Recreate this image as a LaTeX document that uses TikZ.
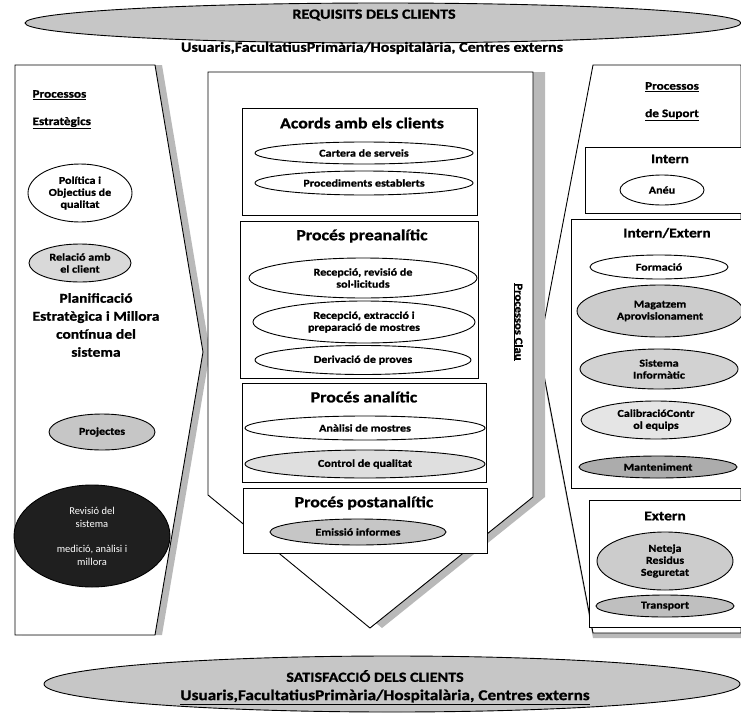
\documentclass[tikz,border=0pt]{standalone}
\usepackage{fontspec}
\setmainfont{Carlito}[BoldFeatures={FakeStretch=1.15,FakeBold=1}]
\usetikzlibrary{shapes.geometric}
\begin{document}
\begin{tikzpicture}[x=1pt,y=-1pt,
  ell/.style={ellipse, draw=black, line width=0.9pt, fill=white, inner sep=0pt, align=center,
              font=\bfseries\fontsize{10.5}{12}\selectfont},
  boxp/.style={rectangle, draw=black, line width=0.9pt, fill=white, inner sep=0pt, anchor=north west},
  ttl/.style={font=\bfseries\fontsize{15.5}{17}\selectfont},
  hdr/.style={font=\bfseries\fontsize{14}{16}\selectfont},
  sub/.style={font=\bfseries\fontsize{11.5}{14}\selectfont},
  panel/.style={draw=black, line width=0.9pt, fill=white},
  shade/.style={fill=gray!55, draw=none},
]
\useasboundingbox (0,0) rectangle (741,715);

% ---------- top banner ----------
\node[ell, fill=gray!45, minimum width=716, minimum height=40] (req) at (383,23) {};
\node[hdr] (reqt) at (374,15) {REQUISITS DELS CLIENTS};
\node[hdr] (usr) at (372,48) {Usuaris,FacultatiusPrimària/Hospitalària, Centres externs};

% ---------- right panel ----------
\begin{scope}[shift={(0,5)}]
  \fill[shade] (593,65) -- (741,65) -- (741,633) -- (593,633) -- (539,349) -- cycle;
\end{scope}
\draw[panel] (593,65) -- (741,65) -- (741,633) -- (593,633) -- (539,349) -- cycle;

% ---------- left panel ----------
\begin{scope}[shift={(7,0)}]
  \fill[shade] (15,65) -- (155,65) -- (203,352) -- (155,635) -- (15,635) -- cycle;
\end{scope}
\draw[panel] (15,65) -- (155,65) -- (203,352) -- (155,635) -- (15,635) -- cycle;

% ---------- centre panel ----------
\begin{scope}[shift={(12,0)}]
  \fill[shade] (208,72) -- (533,72) -- (533,497) -- (370,628) -- (208,495) -- cycle;
\end{scope}
\draw[panel] (208,72) -- (533,72) -- (533,497) -- (370,628) -- (208,495) -- cycle;

\node[font=\bfseries\fontsize{11}{13}\selectfont, rotate=-90] (clau) at (518,322) {\underline{Processos Clau}};

% Acords
\node[boxp, minimum width=235, minimum height=107] (acb) at (242,108) {};
\node[ttl] (acbt) at (362,123) {Acords amb els clients};
\node[ell, minimum width=218, minimum height=22] (cart) at (364,153) {Cartera de serveis};
\node[ell, minimum width=218, minimum height=24] (proc) at (364,183) {Procediments establerts};

% Preanalitic
\node[boxp, minimum width=238, minimum height=157] (preb) at (240,221) {};
\node[ttl] (pret) at (362,236) {Procés preanalític};
\node[ell, minimum width=228, minimum height=40] (recrev) at (363,278) {Recepció, revisió de\\sol·licituds};
\node[ell, minimum width=222, minimum height=42] (recext) at (364,322) {Recepció, extracció i\\preparació de mostres};
\node[ell, minimum width=216, minimum height=29] (deriv) at (363,360) {Derivació de proves};

% Analitic
\node[boxp, minimum width=244, minimum height=99] (anb) at (242,383) {};
\node[ttl] (ant) at (364,397) {Procés analític};
\node[ell, minimum width=240, minimum height=24] (anal) at (365,428) {Anàlisi de mostres};
\node[ell, minimum width=240, minimum height=28, fill=gray!25] (ctrl) at (365,464) {Control de qualitat};

% Postanalitic
\node[boxp, minimum width=244, minimum height=65] (postb) at (243,488) {};
\node[ttl] (postt) at (364,503) {Procés postanalític};
\node[ell, minimum width=176, minimum height=26, fill=gray!45] (emis) at (358,532) {Emissió informes};

% ---------- left panel contents ----------
\node[sub, anchor=west] (pe1) at (29,95) {\underline{Processos}};
\node[sub, anchor=west] (pe2) at (29,123) {\underline{Estratègics}};
\node[ell, minimum width=104, minimum height=58] (pol) at (80,193) {Política i\\Objectius de\\qualitat};
\node[ell, minimum width=102, minimum height=38, fill=gray!30] (rel) at (80,263) {Relació amb\\el client};
\node[align=center, font=\bfseries\fontsize{13.5}{18}\selectfont] (plan) at (96,325)
  {Planificació\\Estratègica i Millora\\contínua del\\sistema};
\node[ell, minimum width=106, minimum height=36, fill=gray!45] (proj) at (102,432) {Projectes};
\node[ell, minimum width=156, minimum height=102, fill=black!88, text=white,
      font=\fontsize{10.5}{13}\selectfont] (rev) at (92,536)
  {Revisió del\\sistema\\[12pt]medició, anàlisi i\\millora};

% ---------- right panel contents ----------
\node[sub] (ps1) at (672,87) {\underline{Processos}};
\node[sub] (ps2) at (672,115) {\underline{de Suport}};

\node[boxp, minimum width=156, minimum height=66] (intb) at (585,147) {};
\node[font=\bfseries\fontsize{13}{15}\selectfont] (intt) at (670,159) {Intern};
\node[ell, minimum width=84, minimum height=30] (aneu) at (662,190) {Anéu};

\node[boxp, minimum width=170, minimum height=269] (ieb) at (571,219) {};
\node[font=\bfseries\fontsize{13.5}{15}\selectfont] (iet) at (667,233) {Intern/Extern};
\node[ell, minimum width=138, minimum height=24] (form) at (659,267) {Formació};
\node[ell, minimum width=166, minimum height=52, fill=gray!40] (mag) at (660,311) {Magatzem\\Aprovisionament};
\node[ell, minimum width=158, minimum height=40, fill=gray!35] (sis) at (659,369) {Sistema\\Informàtic};
\node[ell, minimum width=150, minimum height=38, fill=gray!20] (cal) at (656,420) {CalibracióContr\\ol equips};
\node[ell, minimum width=158, minimum height=22, fill=gray!65] (mant) at (658,467) {Manteniment};

\node[boxp, minimum width=152, minimum height=127] (exb) at (589,500) {};
\node[font=\bfseries\fontsize{13.5}{15}\selectfont] (ext) at (665,516) {Extern};
\node[ell, minimum width=136, minimum height=58, fill=gray!40] (net) at (665,561) {Neteja\\Residus\\Seguretat};
\node[ell, minimum width=138, minimum height=22, fill=gray!50] (trans) at (665,606) {Transport};

% ---------- bottom banner ----------
\node[ell, fill=gray!45, minimum width=696, minimum height=56] (sat) at (392,684) {};
\node[hdr] (satt) at (375,676) {SATISFACCIÓ DELS CLIENTS};
\node[hdr, font=\bfseries\fontsize{15}{17}\selectfont] (usr2) at (385,697) {\underline{Usuaris,FacultatiusPrimària/Hospitalària, Centres externs}};
\end{tikzpicture}
\end{document}
